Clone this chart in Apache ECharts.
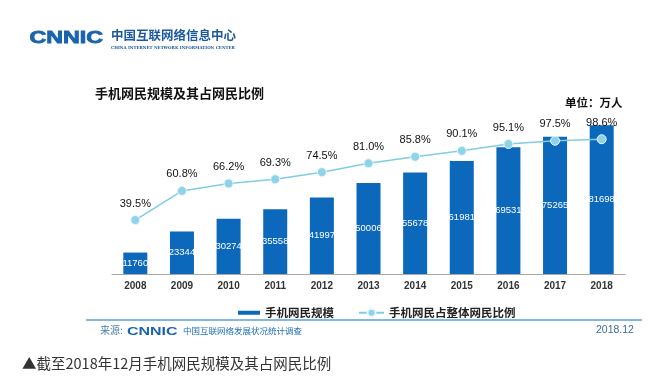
<!DOCTYPE html>
<html><head><meta charset="utf-8">
<script src="https://cdn.jsdelivr.net/npm/echarts@6/dist/echarts.min.js"></script>
<style>html,body{margin:0;padding:0;background:#fff}#c{width:656px;height:387px}</style>
</head><body><div id="c"></div>
<script>
const years = ['2008','2009','2010','2011','2012','2013','2014','2015','2016','2017','2018'];
const users = [11760, 23344, 30274, 35558, 41997, 50006, 55678, 61981, 69531, 75265, 81698];
const shares = [39.5, 60.8, 66.2, 69.3, 74.5, 81.0, 85.8, 90.1, 95.1, 97.5, 98.6];
const seriesNames = ['手机网民规模', '手机网民占整体网民比例'];

const CJK = 'Noto Sans CJK SC';
const SANS = 'Liberation Sans';
function txt(left, top, text, size, weight, family, fill, extra) {
  return Object.assign({ type: 'text', left: left, top: top,
    style: { text: text, fontSize: size, fontWeight: weight, fontFamily: family, fill: fill } }, extra || {});
}
const chart = echarts.init(document.getElementById('c'));
chart.setOption({
  backgroundColor: '#fff',
  animation: false,
  grid: { left: 112, right: 31, top: 110, bottom: 113 },
  xAxis: {
    type: 'category', data: years,
    axisLine: { lineStyle: { color: '#a9a9a9', width: 1 } },
    axisTick: { show: false },
    axisLabel: { color: '#333', fontSize: 10, fontWeight: 'bold', fontFamily: SANS, margin: 7 }
  },
  yAxis: [
    { type: 'value', min: 0, max: 90000, show: false, splitLine: { show: false } },
    { type: 'value', min: 0, max: 120, show: false, splitLine: { show: false } }
  ],
  legend: [
    { data: [seriesNames[0]], left: 233, top: 302, icon: 'rect', itemWidth: 22, itemHeight: 4,
      textStyle: { fontFamily: CJK, fontSize: 11.5, fontWeight: 'bold', color: '#222' } },
    { data: [seriesNames[1]], left: 353, top: 302, itemWidth: 25, itemHeight: 10,
      textStyle: { fontFamily: CJK, fontSize: 11.5, fontWeight: 'bold', color: '#222' } }
  ],
  series: [
    { name: seriesNames[0], type: 'bar', data: users, barWidth: 24, yAxisIndex: 0,
      itemStyle: { color: '#0b68ba' },
      label: { show: true, position: 'inside', color: '#fff', fontSize: 9.5, fontFamily: SANS } },
    { name: seriesNames[1], type: 'line', data: shares, yAxisIndex: 1,
      symbol: 'circle', symbolSize: 9,
      lineStyle: { color: '#80cde3', width: 1.5 },
      itemStyle: { color: '#8fd3ea', borderColor: '#e8f7fc', borderWidth: 1 },
      label: { show: true, position: 'top', distance: 6, color: '#111', fontSize: 11,
        fontFamily: SANS, formatter: p => p.value.toFixed(1) + '%' } }
  ],
  graphic: [
    { type: 'text', left: 29, top: 30, scaleX: 1.45,
      style: { text: 'CNNIC', fontSize: 16, fontWeight: 'bold', fontFamily: SANS, fill: '#1a64ad', stroke: '#1a64ad', lineWidth: 0.8 } },
    txt(111, 29, '中国互联网络信息中心', 12.5, 'bold', CJK, '#1a5a9c'),
    txt(111, 46, 'CHINA INTERNET NETWORK INFORMATION CENTER', 4, 'bold', 'DejaVu Serif', '#1a5a9c'),
    txt(95, 87, '手机网民规模及其占网民比例', 13, 'bold', CJK, '#111'),
    txt(565, 97, '单位：万人', 11.5, 'bold', CJK, '#111'),
    { type: 'line', shape: { x1: 86, y1: 320, x2: 642, y2: 320 },
      style: { stroke: '#5a9fd4', lineWidth: 1.5 } },
    txt(100, 325, '来源:', 10, 'normal', CJK, '#4d7fa8'),
    { type: 'text', left: 127, top: 326, scaleX: 1.45,
      style: { text: 'CNNIC', fontSize: 11, fontWeight: 'bold', fontFamily: SANS, fill: '#1a64ad' } },
    txt(183, 327, '中国互联网络发展状况统计调查', 8.5, 'normal', CJK, '#1e6fb5'),
    txt(596, 325, '2018.12', 10.5, 'normal', SANS, '#3d6e96'),
    txt(22, 356, '▲截至2018年12月手机网民规模及其占网民比例', 14.5, 'normal', CJK, '#333')
  ]
});
</script></body></html>
